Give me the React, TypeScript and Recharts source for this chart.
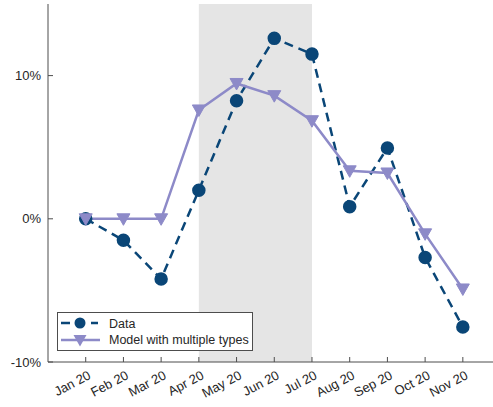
import { LineChart, Line, XAxis, YAxis, ReferenceArea, Legend } from 'recharts';

const months = ['Jan 20', 'Feb 20', 'Mar 20', 'Apr 20', 'May 20', 'Jun 20', 'Jul 20', 'Aug 20', 'Sep 20', 'Oct 20', 'Nov 20'];
const dataValues = [0, -1.5, -4.2, 2.0, 8.25, 12.6, 11.5, 0.85, 4.95, -2.7, -7.55];
const modelValues = [0, 0, 0, 7.6, 9.45, 8.6, 6.85, 3.35, 3.2, -1.05, -4.9];
const yTicks = [-10, 0, 10];
const shadeStart = 'Apr 20';
const shadeEnd = 'Jul 20';

const rows = months.map((m, i) => ({ idx: i + 1, month: m, data: dataValues[i], model: modelValues[i] }));
const xTicks = rows.map((r) => r.idx);

const DATA_COLOR = '#0a4677';
const MODEL_COLOR = '#8d8ac8';
const AXIS_COLOR = '#4d4d4d';
const TEXT_COLOR = '#262626';
const FONT = 'Arial, "Liberation Sans", sans-serif';

const triangle = (cx: number, cy: number, s = 1) =>
  `${cx - 6.5 * s},${cy - 5 * s} ${cx + 6.5 * s},${cy - 5 * s} ${cx},${cy + 6.5 * s}`;

const XTick = (props: any) => {
  const { x, y, payload } = props;
  const label = months[payload.value - 1] ?? '';
  return (
    <g>
      <line x1={x} y1={y} x2={x} y2={y - 5} stroke={AXIS_COLOR} />
      <text
        transform={`translate(${x + 6},${y + 16}) rotate(-28)`}
        textAnchor="end"
        fontSize={13}
        fontFamily={FONT}
        fill={TEXT_COLOR}
      >
        {label}
      </text>
    </g>
  );
};

const YTick = (props: any) => {
  const { x, y, payload } = props;
  return (
    <g>
      <line x1={x} y1={y} x2={x + 5} y2={y} stroke={AXIS_COLOR} />
      <text x={x - 7} y={y} dy={4.5} textAnchor="end" fontSize={13} fontFamily={FONT} fill={TEXT_COLOR}>
        {`${payload.value}%`}
      </text>
    </g>
  );
};

const TriangleDot = (props: any) => {
  const { cx, cy, index } = props;
  return <polygon key={`tri-${index}`} points={triangle(cx, cy)} fill={MODEL_COLOR} stroke={MODEL_COLOR} />;
};

const renderLegend = () => (
  <svg width={196} height={39} style={{ display: 'block' }}>
    <rect x={0.5} y={0.5} width={195} height={38} fill="#fff" stroke={AXIS_COLOR} />
    <line x1={4} y1={11} x2={41} y2={11} stroke={DATA_COLOR} strokeWidth={2.5} strokeDasharray="9 6" />
    <circle cx={23} cy={11} r={5.5} fill={DATA_COLOR} />
    <text x={52} y={16} fontSize={12.5} fontFamily={FONT} fill={TEXT_COLOR}>Data</text>
    <line x1={4} y1={28} x2={43} y2={28} stroke={MODEL_COLOR} strokeWidth={2.5} />
    <polygon points={triangle(23, 28)} fill={MODEL_COLOR} />
    <text x={52} y={32} fontSize={12.5} fontFamily={FONT} fill={TEXT_COLOR}>Model with multiple types</text>
  </svg>
);

export default function App() {
  const x1 = months.indexOf(shadeStart) + 1;
  const x2 = months.indexOf(shadeEnd) + 1;
  return (
    <div style={{ position: 'absolute', left: 0, top: 0, background: '#fff' }}>
      <LineChart width={493} height={407} data={rows} margin={{ top: 4, right: 0, left: 0, bottom: 0 }}>
        <ReferenceArea x1={x1} x2={x2} y1={-10} y2={15} fill="#e5e5e5" fillOpacity={1} stroke="none" />
        <XAxis
          dataKey="idx"
          type="number"
          domain={[0, 11.8]}
          ticks={xTicks}
          allowDataOverflow
          height={45}
          tickSize={0}
          tickMargin={0}
          tickLine={false}
          axisLine={{ stroke: AXIS_COLOR }}
          tick={<XTick />}
          interval={0}
        />
        <YAxis
          type="number"
          domain={[-10, 15]}
          ticks={yTicks}
          allowDataOverflow
          width={48}
          tickSize={0}
          tickMargin={0}
          tickLine={false}
          axisLine={{ stroke: AXIS_COLOR }}
          tick={<YTick />}
          interval={0}
        />
        <Legend
          layout="horizontal"
          verticalAlign="middle"
          align="center"
          content={renderLegend}
          wrapperStyle={{ left: 57, top: 312, width: 196, height: 39 }}
        />
        <Line
          dataKey="data"
          name="Data"
          stroke={DATA_COLOR}
          strokeWidth={2.5}
          strokeDasharray="9 6"
          dot={{ r: 5.5, fill: DATA_COLOR, stroke: DATA_COLOR, strokeDasharray: '' }}
          isAnimationActive={false}
        />
        <Line
          dataKey="model"
          name="Model with multiple types"
          stroke={MODEL_COLOR}
          strokeWidth={2.5}
          dot={<TriangleDot />}
          isAnimationActive={false}
        />
      </LineChart>
    </div>
  );
}
